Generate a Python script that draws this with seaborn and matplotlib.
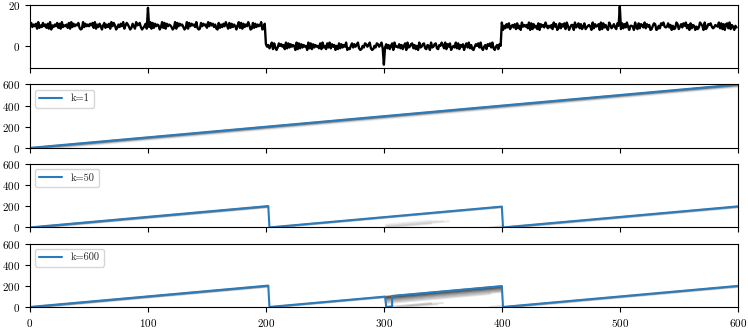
import numpy as np
import pandas as pd
import matplotlib
matplotlib.use("Agg")
import matplotlib.pyplot as plt
import seaborn as sns

# observed signal: piecewise level + hand-read wiggle + three outliers
seg_edges = [0, 200, 400, 600]
seg_levels = [10.0, 0.0, 9.8]
noise_rows = [
    "58364719253846271905364827193546281937465820193746",
    "47582916374058263719485026374915863027419568302471",
    "63918274650392817465302918475630291847563920184756",
    "29485736108263749518273640592817364950182736459027",
    "74625918303857461928374650918273645092817364528193",
    "51839274605182736490215837469201538746920153874692",
    "43726158094437261580934782615093478216509347821659",
    "62917480353928164705839261047583920461758392046175",
    "90527381463718250946462908173518074639525361947028",
    "27481950366093582714813564092745709183620962473185",
    "61827394055409318276392746015870152869434836051297",
    "14738592608265041397509137684236549281707829164053",
]
spike_t = [100, 300, 500]
spike_y = [18.8, -9.0, 19.5]

# MAP run length (blue line vertices) for each hazard setting
k_labels = ["k=1", "k=50", "k=600"]
map_t = [
    [0, 600],
    [0, 202, 203, 400, 401, 600],
    [0, 202, 203, 301, 302, 307, 307, 400, 401, 600],
]
map_r = [
    [0, 600],
    [0, 202, 0, 197, 0, 199],
    [0, 202, 0, 98, 0, 5, 104, 197, 0, 199],
]

# other run-length hypotheses (grey): start time, run length there, end time, opacity
grey_t0 = [
    [3, 7, 12, 18, 25],
    [3, 7, 12, 206, 210, 302, 302, 302, 302, 303, 390, 394, 404, 408, 412],
    [3, 7, 12, 206, 210, 302, 302, 302, 302, 302, 302, 302, 302, 302, 305, 312, 320, 390, 404, 408, 412],
]
grey_r0 = [
    [0, 0, 0, 0, 0],
    [0, 0, 0, 0, 0, 5, 12, 20, 28, 0, 0, 0, 0, 0, 0],
    [0, 0, 0, 0, 0, 97, 92, 86, 80, 72, 64, 55, 45, 35, 0, 0, 0, 0, 0, 0, 0],
]
grey_t1 = [
    [600, 600, 600, 600, 600],
    [202, 202, 202, 400, 400, 355, 350, 345, 340, 340, 400, 400, 600, 600, 600],
    [202, 202, 202, 301, 301, 400, 400, 400, 400, 400, 400, 400, 400, 390, 340, 350, 345, 400, 600, 600, 600],
]
grey_alpha = [
    [0.4, 0.3, 0.2, 0.12, 0.08],
    [0.4, 0.3, 0.15, 0.35, 0.2, 0.1, 0.08, 0.06, 0.05, 0.1, 0.15, 0.1, 0.35, 0.2, 0.12],
    [0.4, 0.3, 0.15, 0.35, 0.2, 0.55, 0.45, 0.4, 0.35, 0.3, 0.25, 0.2, 0.16, 0.12, 0.2, 0.14, 0.1, 0.15, 0.35, 0.2, 0.12],
]

t = np.arange(600)
noise = np.array([int(c) for c in "".join(noise_rows)])
y = np.concatenate([np.full(seg_edges[i + 1] - seg_edges[i], seg_levels[i])
                    for i in range(len(seg_levels))]) + (noise - 4.5) * 0.4
y[spike_t] = spike_y
signal = pd.DataFrame({"t": t, "y": y})

sns.set_theme(style="ticks")
plt.rcParams["font.family"] = ["cmr10", "DejaVu Serif"]
plt.rcParams["axes.formatter.use_mathtext"] = True
plt.rcParams["axes.unicode_minus"] = False

fig, axes = plt.subplots(4, 1, figsize=(7.48, 3.29), dpi=100, sharex=True)
fig.subplots_adjust(left=0.0401, right=0.9863, top=0.985, bottom=0.067, hspace=0.254)

ax = axes[0]
sns.lineplot(data=signal, x="t", y="y", color="black", lw=1.7, ax=ax)
ax.set_ylim(-10.8, 20.2)
ax.set_yticks([0, 20])

for i, ax in enumerate(axes[1:]):
    for t0, r0, t1, a in zip(grey_t0[i], grey_r0[i], grey_t1[i], grey_alpha[i]):
        sns.lineplot(x=[t0, t1], y=[r0, r0 + t1 - t0], color="0.2", alpha=a, lw=1.5, ax=ax)
    run = pd.DataFrame({"t": map_t[i], "r": map_r[i]})
    sns.lineplot(data=run, x="t", y="r", sort=False, estimator=None,
                 color="#2b7bba", lw=1.5, label=k_labels[i], ax=ax)
    ax.set_ylim(0, 600)
    ax.set_yticks([0, 200, 400, 600])
    ax.legend(loc="upper left", fontsize=7.5, handlelength=2.2)

for ax in axes:
    ax.set_xlim(0, 600)
    ax.set_xticks([0, 100, 200, 300, 400, 500, 600])
    ax.set_xlabel("")
    ax.set_ylabel("")
    ax.tick_params(labelsize=8, length=3.5, width=0.8, colors="black")
    for sp in ax.spines.values():
        sp.set_color("black")
        sp.set_linewidth(0.8)

fig.savefig("out.png", dpi=100)
